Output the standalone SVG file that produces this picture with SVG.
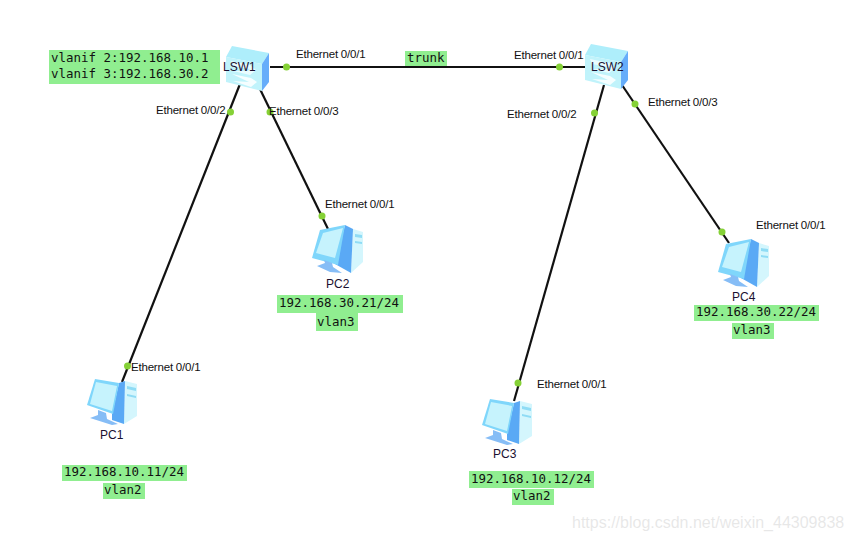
<svg xmlns="http://www.w3.org/2000/svg" xmlns:xlink="http://www.w3.org/1999/xlink" width="853" height="541" viewBox="0 0 853 541">
<style>
.e{font-family:"Liberation Sans",Arial,sans-serif;font-size:11.5px;fill:#111;letter-spacing:-.2px}
.n{font-family:"Liberation Sans",Arial,sans-serif;font-size:12px;fill:#1a1030}
.m{font-family:"DejaVu Sans Mono","Liberation Mono",monospace;font-size:12.46px;fill:#111}
.g{fill:#90ee90}
.l{stroke:#111;stroke-width:2.2;fill:none}
.d{fill:#85d136}
.w{font-family:"Liberation Sans",Arial,sans-serif;font-size:16px;fill:#000;opacity:.09}
</style>
<defs>
<g id="sw">
<path d="M226 57L232 46L269 53L262 64Z" fill="#aeeefb"/>
<path d="M226 57L262 64V91L226 82Z" fill="#c0f3fb"/>
<path d="M262 64L269 53V82L262 91Z" fill="#66adfa"/>
<path d="M231 61L250 65L256 70L250 75L233 71L248 71L250 69L233 66Z" fill="#eafcff"/>
<path d="M232 74L251 78L257 82L251 87L233 81L249 82Z" fill="#f5feff"/>
</g>
<g id="pcA">
<path d="M125 381L137 384V416L124 424Z" fill="#d4f6fd"/>
<path d="M127 386L136 388V391L127 389ZM127 394L136 396V398L127 396Z" fill="#8fdcf5"/>
<path d="M119 383L125 381L124 424L112 420V414Z" fill="#5aa9f5"/>
<path d="M95 379L119 383L113 414L87 405Z" fill="#7fd6fb"/>
<path d="M96 382L117 386L112 411L90 404Z" fill="#c6f3fd"/>
<path d="M98 410L106 413L107 419L118 424L112 425L90 418L98 415Z" fill="#86bdf6"/>
</g>
<g id="pcB">
<path d="M353 229L363 232V262L351 273Z" fill="#d4f6fd"/>
<path d="M355 234L362 235V238L355 237ZM355 241L362 242V244L355 243Z" fill="#8fdcf5"/>
<path d="M345 225L353 229L351 273L335 264Z" fill="#5aa9f5"/>
<path d="M320 230L345 225L338 265L312 258Z" fill="#7fd6fb"/>
<path d="M323 233L343 228L335 258L316 253Z" fill="#c6f3fd"/>
<path d="M324 260L332 263L333 267L342 273L330 272L317 266L325 263Z" fill="#86bdf6"/>
</g>
</defs>

<g id="connectors">
<path class="l" d="M270 67H585"/>
<path class="l" d="M240 84L122 382"/>
<path class="l" d="M259 87L328 229"/>
<path class="l" d="M604 85L514 401"/>
<path class="l" d="M622 85L729 243"/>
<circle class="d" cx="286.500" cy="67" r="3.500"/>
<circle class="d" cx="559.500" cy="67" r="3.500"/>
<circle class="d" cx="230.500" cy="112" r="3.500"/>
<circle class="d" cx="270" cy="112" r="3.500"/>
<circle class="d" cx="594.500" cy="113" r="3.500"/>
<circle class="d" cx="635" cy="104" r="3.500"/>
<circle class="d" cx="322" cy="216" r="3.500"/>
<circle class="d" cx="127.500" cy="366" r="3.500"/>
<circle class="d" cx="518" cy="383" r="3.500"/>
<circle class="d" cx="722" cy="232" r="3.500"/>
</g>

<g id="lsw1"><use href="#sw"/><text class="n" x="223" y="71">LSW1</text></g>
<g id="lsw2"><use href="#sw" x="359" y="-2"/><text class="n" x="591" y="71">LSW2</text></g>
<g id="pc1"><use href="#pcA"/><text class="n" x="100" y="439">PC1</text></g>
<g id="pc2"><use href="#pcB"/><text class="n" x="326" y="288">PC2</text></g>
<g id="pc3"><use href="#pcA" x="395" y="20"/><text class="n" x="493" y="458">PC3</text></g>
<g id="pc4"><use href="#pcB" x="406" y="14"/><text class="n" x="732" y="301">PC4</text></g>

<g id="port-labels">
<text class="e" x="296" y="58">Ethernet 0/0/1</text>
<text class="e" x="514" y="59">Ethernet 0/0/1</text>
<text class="e" x="156" y="114">Ethernet 0/0/2</text>
<text class="e" x="269" y="115">Ethernet 0/0/3</text>
<text class="e" x="507" y="118">Ethernet 0/0/2</text>
<text class="e" x="648" y="106">Ethernet 0/0/3</text>
<text class="e" x="325" y="208">Ethernet 0/0/1</text>
<text class="e" x="131" y="371">Ethernet 0/0/1</text>
<text class="e" x="537" y="388">Ethernet 0/0/1</text>
<text class="e" x="756" y="229">Ethernet 0/0/1</text>
</g>

<g id="annotation-vlanif">
<rect class="g" x="49" y="50" width="171" height="34"/>
<text class="m" x="51" y="62">vlanif 2:192.168.10.1</text>
<text class="m" x="51" y="78">vlanif 3:192.168.30.2</text>
</g>
<g id="annotation-trunk">
<rect class="g" x="405" y="51" width="42" height="15"/>
<text class="m" x="407" y="62">trunk</text>
</g>
<g id="annotation-pc1">
<rect class="g" x="62" y="465" width="125" height="16"/>
<text class="m" x="64" y="476">192.168.10.11/24</text>
<rect class="g" x="103" y="483" width="42" height="16"/>
<text class="m" x="104" y="494">vlan2</text>
</g>
<g id="annotation-pc2">
<rect class="g" x="277" y="295" width="126" height="18"/>
<text class="m" x="279" y="307">192.168.30.21/24</text>
<rect class="g" x="316" y="313" width="42" height="18"/>
<text class="m" x="317" y="326">vlan3</text>
</g>
<g id="annotation-pc3">
<rect class="g" x="469" y="471" width="125" height="17"/>
<text class="m" x="471" y="483">192.168.10.12/24</text>
<rect class="g" x="512" y="489" width="42" height="16"/>
<text class="m" x="513" y="500">vlan2</text>
</g>
<g id="annotation-pc4">
<rect class="g" x="694" y="305" width="125" height="16"/>
<text class="m" x="696" y="316">192.168.30.22/24</text>
<rect class="g" x="732" y="323" width="42" height="16"/>
<text class="m" x="733" y="334">vlan3</text>
</g>
<text class="w" x="572" y="528">https://blog.csdn.net/weixin_44309838</text>
</svg>
